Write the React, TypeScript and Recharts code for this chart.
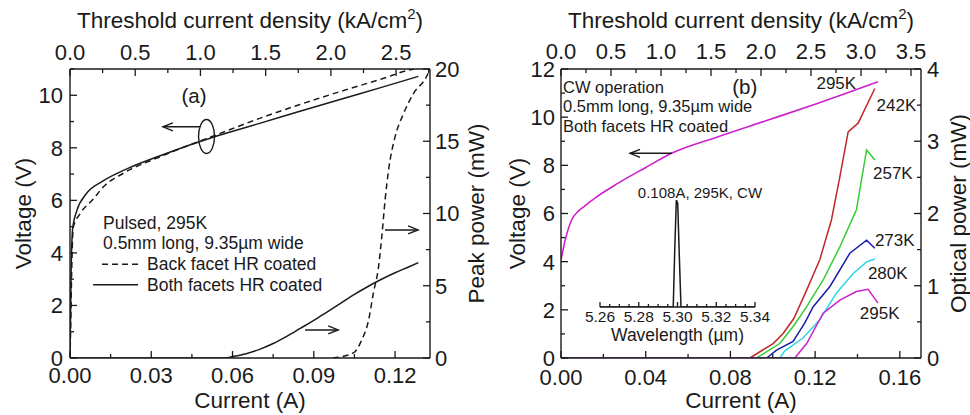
import React from "react";
import { Label, Line, LineChart, ReferenceDot, ReferenceLine, XAxis, YAxis } from "recharts";

const FONT = '"Liberation Sans", Arial, Helvetica, sans-serif';
const INK = "#1a1a1a";

// ---------- panel (a): pulsed, 295K. [current A, value] ----------
const A_VOLT_BOTH = [
  [0, 0], [0.0002, 1.5], [0.0004, 3.2], [0.0007, 4.4], [0.001, 4.95], [0.0025, 5.6],
  [0.006, 6.25], [0.0122, 6.74], [0.021, 7.2], [0.033, 7.69], [0.0542, 8.45],
  [0.07, 8.93], [0.0849, 9.39], [0.1, 9.85], [0.115, 10.3], [0.1286, 10.72],
];
const A_VOLT_BACK = [
  [0, 0], [0.0003, 1.5], [0.0006, 3.2], [0.0009, 4.4], [0.0012, 4.97], [0.0037, 5.49],
  [0.0086, 6.05], [0.0122, 6.5], [0.02, 7.05], [0.033, 7.65], [0.0542, 8.5],
  [0.07, 9.12], [0.0849, 9.65], [0.1, 10.15], [0.115, 10.62], [0.1256, 10.97], [0.127, 11.0],
];
const A_POW_BOTH = [
  [0, 0], [0.057, 0], [0.06, 0.1], [0.065, 0.3], [0.07, 0.6], [0.075, 1.0], [0.08, 1.5],
  [0.085, 2.05], [0.09, 2.6], [0.095, 3.2], [0.1, 3.8], [0.105, 4.4], [0.11, 4.95],
  [0.115, 5.45], [0.12, 5.9], [0.125, 6.3], [0.1286, 6.6],
];
const A_POW_BACK = [
  [0.097, 0], [0.1046, 0.35], [0.1077, 1.25], [0.1102, 2.6], [0.112, 4.5], [0.1139, 6.3],
  [0.1151, 8.4], [0.1163, 10.9], [0.1176, 13.0], [0.12, 15.3], [0.1231, 16.9],
  [0.1268, 18.3], [0.1317, 19.5], [0.1322, 19.7],
];

const A_X_TICKS = [0, 0.015, 0.03, 0.045, 0.06, 0.075, 0.09, 0.105, 0.12];
const A_X_MAJOR = [0, 0.03, 0.06, 0.09, 0.12];
const A_TOP_TICKS = [0, 0.25, 0.5, 0.75, 1, 1.25, 1.5, 1.75, 2, 2.25, 2.5, 2.75];
const A_TOP_MAJOR = [0, 0.5, 1, 1.5, 2, 2.5];
const A_V_TICKS = [0, 1, 2, 3, 4, 5, 6, 7, 8, 9, 10, 11];
const A_V_MAJOR = [0, 2, 4, 6, 8, 10];
const A_P_TICKS = [0, 2.5, 5, 7.5, 10, 12.5, 15, 17.5, 20];
const A_P_MAJOR = [0, 5, 10, 15, 20];
const A_LEGEND = ["Pulsed, 295K", "0.5mm long, 9.35\u00b5m wide", "Back facet HR coated", "Both facets HR coated"];

// ---------- panel (b): CW ----------
const B_VOLT_295 = [
  [0, 4.07], [0.002, 4.9], [0.005, 5.73], [0.0082, 6.1], [0.0113, 6.32], [0.016, 6.64],
  [0.027, 7.26], [0.0396, 7.89], [0.0522, 8.5], [0.0742, 9.19], [0.0978, 9.88],
  [0.1214, 10.58], [0.1497, 11.47],
];
const B_POW_242 = [
  [0, 0], [0.0892, 0], [0.1002, 0.2], [0.1049, 0.34], [0.11, 0.55], [0.116, 0.94],
  [0.1222, 1.36], [0.1277, 1.91], [0.1317, 2.51], [0.1356, 3.13], [0.1403, 3.25], [0.1482, 3.73],
];
const B_POW_257 = [
  [0, 0], [0.0924, 0], [0.1033, 0.2], [0.11, 0.45], [0.116, 0.71], [0.1238, 1.08],
  [0.1317, 1.54], [0.1395, 2.05], [0.1443, 2.88], [0.1482, 2.74],
];
const B_POW_273 = [
  [0, 0], [0.0971, 0], [0.1018, 0.11], [0.1096, 0.23], [0.115, 0.48], [0.1191, 0.71],
  [0.127, 0.99], [0.1364, 1.45], [0.1443, 1.63], [0.1482, 1.52],
];
const B_POW_280 = [
  [0, 0], [0.1033, 0], [0.1057, 0.1], [0.1144, 0.28], [0.1222, 0.53], [0.1301, 0.9],
  [0.138, 1.17], [0.1443, 1.33], [0.1482, 1.37],
];
const B_POW_295 = [
  [0, 0], [0.1104, 0], [0.116, 0.2], [0.1238, 0.62], [0.1317, 0.8], [0.1395, 0.92],
  [0.145, 0.95], [0.1497, 0.76],
];

const B_X_TICKS = [0, 0.02, 0.04, 0.06, 0.08, 0.1, 0.12, 0.14, 0.16];
const B_X_MAJOR = [0, 0.04, 0.08, 0.12, 0.16];
const B_TOP_TICKS = [0, 0.25, 0.5, 0.75, 1, 1.25, 1.5, 1.75, 2, 2.25, 2.5, 2.75, 3, 3.25, 3.5];
const B_TOP_MAJOR = [0, 0.5, 1, 1.5, 2, 2.5, 3, 3.5];
const B_V_TICKS = [0, 1, 2, 3, 4, 5, 6, 7, 8, 9, 10, 11, 12];
const B_V_MAJOR = [0, 2, 4, 6, 8, 10, 12];
const B_P_TICKS = [0, 0.5, 1, 1.5, 2, 2.5, 3, 3.5, 4];
const B_P_MAJOR = [0, 1, 2, 3, 4];
const B_NOTE = ["CW operation", "0.5mm long, 9.35\u00b5m wide", "Both facets HR coated"];

// inset spectrum: [wavelength um, normalised intensity]
const INSET_SPEC = [
  [5.26, 0], [5.27, 0], [5.28, 0], [5.29, 0], [5.2978, 0], [5.2986, 0.55], [5.2994, 1.0],
  [5.3001, 0.97], [5.3009, 0.5], [5.3018, 0], [5.31, 0], [5.32, 0], [5.33, 0], [5.34, 0],
];
const INSET_TICKS = [
  5.26, 5.265, 5.27, 5.275, 5.28, 5.285, 5.29, 5.295, 5.3, 5.305, 5.31, 5.315, 5.32, 5.325, 5.33, 5.335, 5.34,
];
const INSET_MAJOR = [5.26, 5.28, 5.3, 5.32, 5.34];

const COLORS = { m: "#cc22cc", r: "#c0282a", g: "#33cc33", b: "#1c1ca8", c: "#2fd6e6" };

const pts = (rows: number[][]) => rows.map(([i, v]) => ({ i, v }));

type Side = "bottom" | "top" | "left" | "right";

function AxisTick(props: any) {
  const { x = 0, y = 0, payload, side, majors, digits, fs = 22, gap = 8, major = 7, minor = 4 } = props;
  const value: number = payload ? payload.value : 0;
  const isMajor = (majors as number[]).some((m) => Math.abs(m - value) < 1e-9);
  const len = isMajor ? major : minor;
  const txt = isMajor ? value.toFixed(digits) : "";
  const s = side as Side;
  let line;
  let text;
  const common = { fontSize: fs, fontFamily: FONT, fill: INK };
  if (s === "bottom") {
    line = <line x1={x} y1={y} x2={x} y2={y - len} stroke={INK} strokeWidth={1.3} />;
    text = <text x={x} y={y + gap + 0.72 * fs} textAnchor="middle" {...common}>{txt}</text>;
  } else if (s === "top") {
    line = <line x1={x} y1={y} x2={x} y2={y + len} stroke={INK} strokeWidth={1.3} />;
    text = <text x={x} y={y - gap} textAnchor="middle" {...common}>{txt}</text>;
  } else if (s === "left") {
    line = <line x1={x} y1={y} x2={x + len} y2={y} stroke={INK} strokeWidth={1.3} />;
    text = <text x={x - gap} y={y + 0.36 * fs} textAnchor="end" {...common}>{txt}</text>;
  } else {
    line = <line x1={x} y1={y} x2={x - len} y2={y} stroke={INK} strokeWidth={1.3} />;
    text = <text x={x + gap} y={y + 0.36 * fs} textAnchor="start" {...common}>{txt}</text>;
  }
  return (
    <g>
      {line}
      {text}
    </g>
  );
}

const TITLE_FS = 22.5;

const hTitle = (text: React.ReactNode, dy: number) => (p: any) => {
  const vb = p.viewBox || {};
  return (
    <text x={vb.x + vb.width / 2} y={vb.y + dy} textAnchor="middle" fontSize={TITLE_FS} fontFamily={FONT} fill={INK}>
      {text}
    </text>
  );
};

const vTitle = (text: string, dx: number) => (p: any) => {
  const vb = p.viewBox || {};
  const x = vb.x + dx;
  const y = vb.y + vb.height / 2;
  return (
    <text x={x} y={y} transform={`rotate(-90 ${x} ${y})`} textAnchor="middle" fontSize={TITLE_FS} fontFamily={FONT} fill={INK}>
      {text}
    </text>
  );
};

const densityTitle = (
  <>
    Threshold current density (kA/cm
    <tspan dy={-9} fontSize={15}>2</tspan>
    <tspan dy={9}>)</tspan>
  </>
);

const arrowShape = (p: any) => {
  const { x1, y1, x2, y2 } = p;
  if ([x1, y1, x2, y2].some((n) => typeof n !== "number")) return <g />;
  const a = Math.atan2(y2 - y1, x2 - x1);
  const h = 10;
  const w = 4;
  const bx = x2 - h * Math.cos(a);
  const by = y2 - h * Math.sin(a);
  const nx = -Math.sin(a) * w;
  const ny = Math.cos(a) * w;
  return (
    <g>
      <line x1={x1} y1={y1} x2={x2} y2={y2} stroke={INK} strokeWidth={1.4} />
      <polyline points={`${bx + nx},${by + ny} ${x2},${y2} ${bx - nx},${by - ny}`} fill="none" stroke={INK} strokeWidth={1.4} />
    </g>
  );
};

const textAt = (t: string, fs: number, anchor: "start" | "middle" | "end" = "middle", dy = 0) => (p: any) => (
  <text x={p.cx} y={p.cy + dy} textAnchor={anchor} fontSize={fs} fontFamily={FONT} fill={INK}>
    {t}
  </text>
);

const ellipseShape = (p: any) => (
  <ellipse cx={p.cx} cy={p.cy} rx={8} ry={17} fill="none" stroke={INK} strokeWidth={1.4} />
);

const legendA = (p: any) => {
  const lh = 20.7;
  const fs = 17.5;
  const t = (k: number, dx: number) => (
    <text x={p.cx + dx} y={p.cy + k * lh} fontSize={fs} fontFamily={FONT} fill={INK}>
      {A_LEGEND[k]}
    </text>
  );
  return (
    <g>
      {t(0, 0)}
      {t(1, 0)}
      <line x1={p.cx - 1} x2={p.cx + 37} y1={p.cy + 2 * lh - 6} y2={p.cy + 2 * lh - 6} stroke={INK} strokeWidth={1.5} strokeDasharray="6 4" />
      {t(2, 44)}
      <line x1={p.cx - 10} x2={p.cx + 35} y1={p.cy + 3 * lh - 6} y2={p.cy + 3 * lh - 6} stroke={INK} strokeWidth={1.5} />
      {t(3, 44)}
    </g>
  );
};

const noteB = (p: any) => (
  <g>
    {B_NOTE.map((s, k) => (
      <text key={k} x={p.cx} y={p.cy + k * 19.4} fontSize={16.5} fontFamily={FONT} fill={INK}>
        {s}
      </text>
    ))}
  </g>
);

const axisBase = { tickSize: 0, tickMargin: 0, interval: 0 as const, allowDataOverflow: true, type: "number" as const, axisLine: { stroke: INK, strokeWidth: 1.4 }, tickLine: false };

function PanelA() {
  return (
    <LineChart width={495} height={415} margin={{ top: 0, right: 0, bottom: 0, left: 0 }}>
      <XAxis xAxisId="b" dataKey="i" orientation="bottom" domain={[0, 0.1329]} ticks={A_X_TICKS} height={57} {...axisBase}
        tick={<AxisTick side="bottom" majors={A_X_MAJOR} digits={2} gap={9.5} />}>
        <Label content={hTitle("Current (A)", 50)} />
      </XAxis>
      <XAxis xAxisId="t" dataKey="j" orientation="top" domain={[0, 2.76]} ticks={A_TOP_TICKS} height={69} {...axisBase}
        tick={<AxisTick side="top" majors={A_TOP_MAJOR} digits={1} gap={9.2} />}>
        <Label content={hTitle(densityTitle, 28)} />
      </XAxis>
      <YAxis yAxisId="v" orientation="left" domain={[0, 11]} ticks={A_V_TICKS} width={70} {...axisBase}
        tick={<AxisTick side="left" majors={A_V_MAJOR} digits={0} gap={7} />}>
        <Label content={vTitle("Voltage (V)", 31)} />
      </YAxis>
      <YAxis yAxisId="p" orientation="right" domain={[0, 20]} ticks={A_P_TICKS} width={65} {...axisBase}
        tick={<AxisTick side="right" majors={A_P_MAJOR} digits={0} gap={5} />}>
        <Label content={vTitle("Peak power (mW)", 53.5)} />
      </YAxis>

      <Line xAxisId="b" yAxisId="v" type="monotone" data={pts(A_VOLT_BACK)} dataKey="v" stroke={INK} strokeWidth={1.5} strokeDasharray="6 4" dot={false} isAnimationActive={false} />
      <Line xAxisId="b" yAxisId="v" type="monotone" data={pts(A_VOLT_BOTH)} dataKey="v" stroke={INK} strokeWidth={1.5} dot={false} isAnimationActive={false} />
      <Line xAxisId="b" yAxisId="p" type="monotone" data={pts(A_POW_BACK)} dataKey="v" stroke={INK} strokeWidth={1.5} strokeDasharray="6 4" dot={false} isAnimationActive={false} />
      <Line xAxisId="b" yAxisId="p" type="monotone" data={pts(A_POW_BOTH)} dataKey="v" stroke={INK} strokeWidth={1.5} dot={false} isAnimationActive={false} />

      <ReferenceDot xAxisId="b" yAxisId="v" x={0.0458} y={9.7} shape={textAt("(a)", 20.5)} ifOverflow="visible" />
      <ReferenceDot xAxisId="b" yAxisId="v" x={0.0504} y={8.43} shape={ellipseShape} ifOverflow="visible" />
      <ReferenceLine xAxisId="b" yAxisId="v" segment={[{ x: 0.048, y: 8.8 }, { x: 0.0343, y: 8.8 }]} shape={arrowShape} ifOverflow="visible" />
      <ReferenceLine xAxisId="b" yAxisId="p" segment={[{ x: 0.1163, y: 8.86 }, { x: 0.1285, y: 8.86 }]} shape={arrowShape} ifOverflow="visible" />
      <ReferenceLine xAxisId="b" yAxisId="p" segment={[{ x: 0.0868, y: 1.94 }, { x: 0.099, y: 1.94 }]} shape={arrowShape} ifOverflow="visible" />
      <ReferenceDot xAxisId="b" yAxisId="v" x={0.0122} y={4.92} shape={legendA} ifOverflow="visible" />
    </LineChart>
  );
}

const B_SERIES = [
  { name: "242K", rows: B_POW_242, color: COLORS.r },
  { name: "257K", rows: B_POW_257, color: COLORS.g },
  { name: "273K", rows: B_POW_273, color: COLORS.b },
  { name: "280K", rows: B_POW_280, color: COLORS.c },
  { name: "295K", rows: B_POW_295, color: COLORS.m },
];

// label anchors (current A, optical power mW)
const B_TEMP_TAGS: [string, number, number][] = [
  ["295K", 0.13, 3.8],
  ["242K", 0.1584, 3.5],
  ["257K", 0.1567, 2.56],
  ["273K", 0.1576, 1.63],
  ["280K", 0.1543, 1.18],
  ["295K", 0.1505, 0.62],
];

function PanelB() {
  return (
    <LineChart width={490} height={415} margin={{ top: 0, right: 0, bottom: 0, left: 0 }}>
      <XAxis xAxisId="b" dataKey="i" orientation="bottom" domain={[0, 0.17]} ticks={B_X_TICKS} height={57} {...axisBase}
        tick={<AxisTick side="bottom" majors={B_X_MAJOR} digits={2} gap={11} />}>
        <Label content={hTitle("Current (A)", 50)} />
      </XAxis>
      <XAxis xAxisId="t" dataKey="j" orientation="top" domain={[0, 3.6]} ticks={B_TOP_TICKS} height={69} {...axisBase}
        tick={<AxisTick side="top" majors={B_TOP_MAJOR} digits={1} gap={10.2} />}>
        <Label content={hTitle(densityTitle, 28)} />
      </XAxis>
      <YAxis yAxisId="v" orientation="left" domain={[0, 12]} ticks={B_V_TICKS} width={76} {...axisBase}
        tick={<AxisTick side="left" majors={B_V_MAJOR} digits={0} gap={6} />}>
        <Label content={vTitle("Voltage (V)", 40)} />
      </YAxis>
      <YAxis yAxisId="p" orientation="right" domain={[0, 4]} ticks={B_P_TICKS} width={54} {...axisBase}
        tick={<AxisTick side="right" majors={B_P_MAJOR} digits={0} gap={6} />}>
        <Label content={vTitle("Optical power (mW)", 45)} />
      </YAxis>

      <Line xAxisId="b" yAxisId="v" type="monotone" data={pts(B_VOLT_295)} dataKey="v" stroke={COLORS.m} strokeWidth={1.6} dot={false} isAnimationActive={false} />
      {B_SERIES.map((s) => (
        <Line key={s.name} xAxisId="b" yAxisId="p" data={pts(s.rows)} dataKey="v" name={s.name} stroke={s.color} strokeWidth={1.5} dot={false} isAnimationActive={false} />
      ))}

      <ReferenceDot xAxisId="b" yAxisId="v" x={0.0868} y={10.96} shape={textAt("(b)", 20.5)} ifOverflow="visible" />
      <ReferenceDot xAxisId="b" yAxisId="v" x={0.00094} y={11.0} shape={noteB} ifOverflow="visible" />
      <ReferenceLine xAxisId="b" yAxisId="v" segment={[{ x: 0.0524, y: 8.5 }, { x: 0.0326, y: 8.5 }]} shape={arrowShape} ifOverflow="visible" />
      {B_TEMP_TAGS.map(([t, i, p], k) => (
        <ReferenceDot key={k} xAxisId="b" yAxisId="p" x={i} y={p} shape={textAt(t, 17, "middle", 6)} ifOverflow="visible" />
      ))}
    </LineChart>
  );
}

function Inset() {
  return (
    <LineChart width={240} height={180} margin={{ top: 30, right: 45, bottom: 0, left: 40 }}>
      <XAxis dataKey="i" orientation="bottom" domain={[5.26, 5.34]} ticks={INSET_TICKS} height={43} {...axisBase}
        tick={<AxisTick side="bottom" majors={INSET_MAJOR} digits={2} fs={15.5} gap={4} major={5} minor={3} />}>
        <Label content={(p: any) => {
          const vb = p.viewBox || {};
          return (
            <text x={vb.x + vb.width / 2} y={vb.y + 34} textAnchor="middle" fontSize={17.5} fontFamily={FONT} fill={INK}>
              {"Wavelength (\u00b5m)"}
            </text>
          );
        }} />
      </XAxis>
      <YAxis hide width={0} domain={[0, 1]} type="number" allowDataOverflow />
      <Line data={pts(INSET_SPEC)} dataKey="v" stroke={INK} strokeWidth={1.5} dot={false} isAnimationActive={false} />
      <ReferenceDot x={5.3116} y={1} shape={textAt("0.108A, 295K, CW", 15, "middle", -2)} ifOverflow="visible" />
    </LineChart>
  );
}

export default function App() {
  return (
    <div style={{ position: "absolute", left: 0, top: 0, width: 970, height: 415, overflow: "hidden", background: "#fff", fontFamily: FONT }}>
      <div style={{ position: "absolute", left: 0, top: 0 }}>
        <PanelA />
      </div>
      <div style={{ position: "absolute", left: 485, top: 0 }}>
        <PanelB />
      </div>
      <div style={{ position: "absolute", left: 560, top: 170 }}>
        <Inset />
      </div>
    </div>
  );
}
